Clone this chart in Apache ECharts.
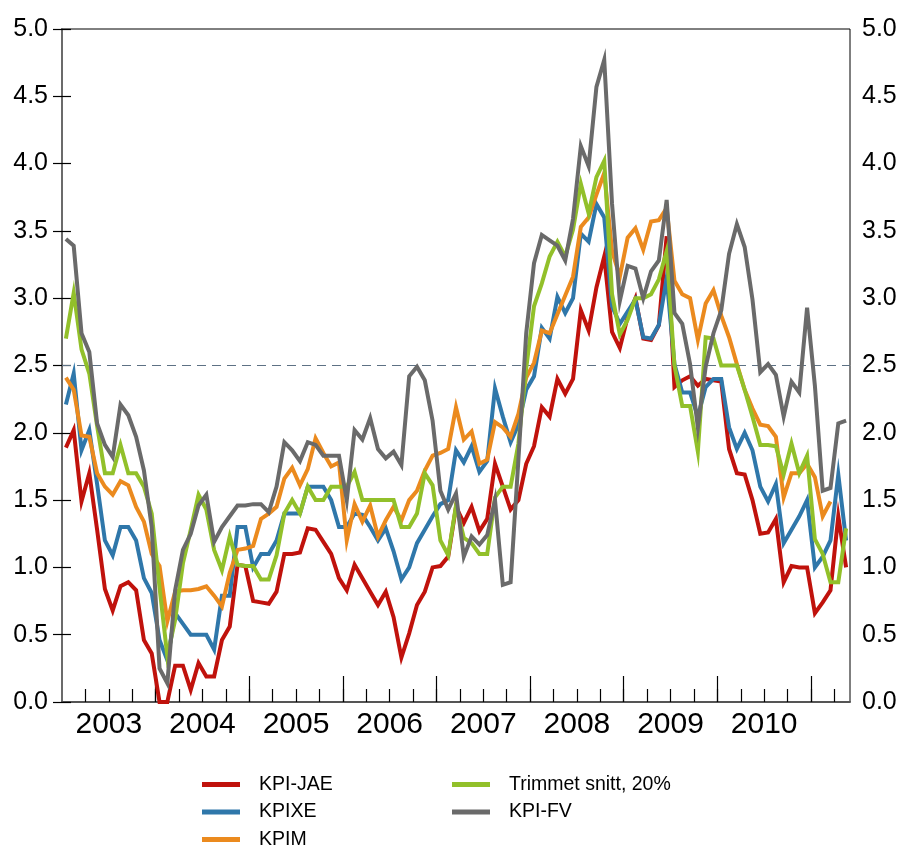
<!DOCTYPE html>
<html>
<head>
<meta charset="utf-8">
<script src="https://cdn.jsdelivr.net/npm/echarts@6/dist/echarts.min.js"></script>
<style>
html,body{margin:0;padding:0;background:#fff;}
#chart{width:902px;height:848px;}
</style>
</head>
<body>
<div id="chart"></div>
<script>
// Monthly data, January 2003 onwards (twelve-month change, percent)
const yearLabels = ['2003','2004','2005','2006','2007','2008','2009','2010'];
const seriesNames = ['KPI-JAE','KPIXE','KPIM','Trimmet snitt, 20%','KPI-FV'];

const kpiJae = [1.89,2.02,1.49,1.70,1.28,0.84,0.68,0.86,0.89,0.83,
 0.46,0.36,0.00,0.00,0.27,0.27,0.09,0.29,0.19,0.19,
 0.46,0.56,1.02,1.01,0.75,0.74,0.73,0.82,1.10,1.10,
 1.11,1.29,1.28,1.19,1.10,0.92,0.83,1.02,0.92,0.82,
 0.72,0.82,0.63,0.33,0.51,0.72,0.82,1.00,1.01,1.08,
 1.45,1.33,1.45,1.27,1.36,1.77,1.60,1.43,1.50,1.77,
 1.90,2.19,2.12,2.40,2.29,2.40,2.91,2.76,3.08,3.31,
 2.75,2.63,2.86,3.00,2.70,2.69,2.80,3.46,2.34,2.39,
 2.42,2.35,2.40,2.39,2.38,1.88,1.70,1.69,1.50,1.25,
 1.26,1.36,0.89,1.01,1.00,1.00,0.66,0.74,0.83,1.38,
 1.00];

const kpixe = [2.21,2.44,1.87,2.02,1.62,1.20,1.09,1.30,1.30,1.20,
 0.92,0.81,0.46,0.31,0.66,0.58,0.50,0.50,0.50,0.39,
 0.79,0.79,1.30,1.30,1.00,1.10,1.10,1.20,1.40,1.40,
 1.40,1.60,1.60,1.60,1.50,1.30,1.30,1.40,1.39,1.30,
 1.20,1.29,1.12,0.91,1.00,1.18,1.28,1.38,1.47,1.50,
 1.87,1.78,1.90,1.71,1.79,2.33,2.12,1.93,2.06,2.32,
 2.42,2.78,2.70,3.01,2.89,3.00,3.48,3.42,3.70,3.60,
 2.94,2.81,2.90,2.99,2.71,2.70,2.80,3.15,2.51,2.30,
 2.30,2.12,2.34,2.40,2.40,2.04,1.88,2.00,1.87,1.60,
 1.49,1.62,1.18,1.28,1.38,1.50,1.00,1.08,1.20,1.69,
 1.20];

const kpim = [2.41,2.32,1.98,1.97,1.70,1.60,1.54,1.64,1.61,1.45,
 1.34,1.10,1.01,0.60,0.82,0.83,0.83,0.84,0.86,0.79,
 0.71,0.96,1.13,1.14,1.16,1.36,1.40,1.45,1.66,1.74,
 1.61,1.73,1.96,1.85,1.75,1.78,1.20,1.47,1.34,1.46,
 1.23,1.35,1.45,1.35,1.50,1.57,1.72,1.83,1.85,1.88,
 2.19,1.95,2.01,1.77,1.80,2.08,2.04,1.97,2.14,2.41,
 2.52,2.76,2.74,2.88,3.02,3.16,3.53,3.60,3.77,3.93,
 3.35,3.16,3.45,3.52,3.36,3.57,3.58,3.67,3.13,3.03,
 3.00,2.69,2.96,3.06,2.87,2.71,2.51,2.32,2.18,2.06,
 2.05,1.97,1.52,1.70,1.70,1.77,1.67,1.38,1.49];

const trimmet = [2.70,3.04,2.62,2.44,2.05,1.70,1.70,1.91,1.70,1.70,
 1.60,1.40,0.85,0.34,0.61,1.03,1.28,1.54,1.43,1.13,
 0.98,1.23,1.02,1.01,1.01,0.91,0.91,1.09,1.40,1.50,
 1.40,1.60,1.50,1.50,1.60,1.60,1.60,1.71,1.50,1.50,
 1.50,1.50,1.50,1.30,1.30,1.40,1.70,1.61,1.20,1.09,
 1.46,1.22,1.18,1.10,1.10,1.52,1.60,1.60,1.92,2.48,
 2.94,3.11,3.31,3.42,3.31,3.51,3.85,3.63,3.90,4.02,
 3.03,2.73,2.84,3.00,3.00,3.03,3.14,3.35,2.50,2.20,
 2.20,1.86,2.71,2.70,2.50,2.50,2.50,2.32,2.12,1.91,
 1.91,1.90,1.69,1.92,1.70,1.83,1.21,1.10,0.89,0.89,
 1.29];

const kpiFv = [3.44,3.39,2.74,2.60,2.07,1.91,1.82,2.21,2.13,1.97,
 1.72,1.30,0.25,0.14,0.83,1.13,1.25,1.46,1.54,1.19,
 1.30,1.38,1.46,1.46,1.47,1.47,1.41,1.60,1.93,1.87,
 1.79,1.93,1.91,1.83,1.83,1.83,1.50,2.02,1.95,2.11,
 1.88,1.81,1.86,1.76,2.42,2.49,2.39,2.09,1.57,1.43,
 1.55,1.08,1.23,1.17,1.24,1.50,0.87,0.89,1.80,2.74,
 3.26,3.47,3.43,3.39,3.28,3.59,4.13,3.98,4.57,4.77,
 3.70,2.98,3.24,3.22,3.00,3.20,3.28,3.73,2.89,2.81,
 2.51,2.04,2.49,2.74,2.91,3.33,3.55,3.38,2.99,2.45,
 2.51,2.43,2.12,2.38,2.30,2.93,2.35,1.57,1.59,2.07,
 2.09];

const targetLine = 2.5;
const monthsOnAxis = 101;

const colors = ['#c0120c','#2f77aa','#eb8a1e','#92c02a','#6a6a6a'];
const allValues = [kpiJae, kpixe, kpim, trimmet, kpiFv];

// month index i plotted at mid-month
const toPoints = arr => arr.map((v, i) => [i + 0.5, v]);

const quarterTicks = [];
for (let m = 3; m < monthsOnAxis; m += 3) quarterTicks.push(m);
const yearTicks = [];
for (let m = 12; m < monthsOnAxis; m += 12) yearTicks.push(m);
const yearLabelPos = yearLabels.map((_, k) => k * 12 + 6);

const FONT = "'Liberation Sans', Arial, sans-serif";

const chart = echarts.init(document.getElementById('chart'), null, {renderer: 'canvas'});

const series = allValues.map((arr, k) => ({
  name: seriesNames[k],
  type: 'line',
  data: toPoints(arr),
  showSymbol: false,
  symbol: 'none',
  lineStyle: {color: colors[k], width: 4, join: 'miter', cap: 'butt'},
  itemStyle: {color: colors[k]},
  emphasis: {disabled: true},
  animation: false,
  z: 3 + k
}));
series[0].markLine = {
  silent: true,
  symbol: 'none',
  label: {show: false},
  lineStyle: {color: '#5d7184', type: [9, 6], width: 1.2},
  data: [{yAxis: targetLine}],
  z: 1
};

const legendCommon = {
  orient: 'vertical', top: 774, itemGap: 6.5, padding: 0, height: 120,
  icon: 'rect', itemWidth: 38, itemHeight: 5,
  textStyle: {color: '#000', fontFamily: FONT, fontSize: 19.5, lineHeight: 21, padding: [0, 0, 0, 14]},
  selectedMode: false
};

const yAxisCommon = {
  type: 'value', min: 0, max: 5, interval: 0.5,
  axisLine: {show: true, lineStyle: {color: '#6b6b6b', width: 2}},
  axisTick: {show: true, inside: true, length: 9, lineStyle: {color: '#000', width: 1.2}},
  axisLabel: {color: '#000', fontFamily: FONT, fontSize: 25, formatter: v => v.toFixed(1)},
  splitLine: {show: false}
};

const option = {
  backgroundColor: '#fff',
  animation: false,
  grid: {left: 62, right: 52, top: 29, bottom: 146, show: true, borderColor: '#000', borderWidth: 1},
  legend: [
    Object.assign({}, legendCommon, {data: seriesNames.slice(0, 3), left: 202}),
    Object.assign({}, legendCommon, {data: seriesNames.slice(3), left: 452})
  ],
  xAxis: [
    {
      type: 'value', min: 0, max: monthsOnAxis, position: 'bottom',
      axisLine: {show: true, onZero: false, lineStyle: {color: '#555', width: 2}},
      axisTick: {show: true, inside: true, length: 13, customValues: quarterTicks, lineStyle: {color: '#000', width: 1.2}},
      axisLabel: {show: false},
      splitLine: {show: false}
    },
    {
      type: 'value', min: 0, max: monthsOnAxis, position: 'bottom',
      axisLine: {show: false, onZero: false},
      axisTick: {show: true, inside: true, length: 26, customValues: yearTicks, lineStyle: {color: '#000', width: 1.2}},
      axisLabel: {show: true, customValues: yearLabelPos, margin: 8, color: '#000', fontFamily: FONT, fontSize: 30,
        formatter: v => yearLabels[Math.round((v - 6) / 12)]},
      splitLine: {show: false}
    }
  ],
  yAxis: [
    Object.assign({}, yAxisCommon, {position: 'left', axisLabel: Object.assign({}, yAxisCommon.axisLabel, {margin: 14})}),
    Object.assign({}, yAxisCommon, {position: 'right', axisLabel: Object.assign({}, yAxisCommon.axisLabel, {margin: 12})})
  ],
  series: series
};

chart.setOption(option);
</script>
</body>
</html>
